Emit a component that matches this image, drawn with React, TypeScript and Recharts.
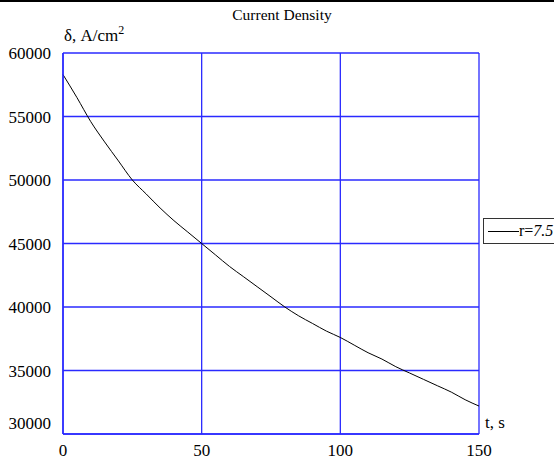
import React from 'react';
import { LineChart, Line, XAxis, YAxis, CartesianGrid } from 'recharts';

/* ── Data ────────────────────────────────────────────────── */
const timeS = [0, 5, 10, 15, 20, 25, 30, 35, 40, 45, 50, 55, 60, 65, 70, 75, 80, 85, 90, 95, 100, 105, 110, 115, 120, 125, 130, 135, 140, 145, 150];
const densityR75 = [
  58300, 56500, 54600, 53000, 51500, 50000, 48900, 47800, 46800, 45900, 45000, 44100, 43200, 42400, 41600, 40800,
  40000, 39300, 38700, 38100, 37600, 37000, 36400, 35900, 35300, 34800, 34300, 33800, 33300, 32700, 32200,
];
const xTicks = [0, 50, 100, 150];
const yTicks = [30000, 35000, 40000, 45000, 50000, 55000, 60000];
const seriesName = 'r=7.5';

const data = timeS.map((t, i) => ({ t, d: densityR75[i] }));

/* ── Style ───────────────────────────────────────────────── */
const FONT = "'Liberation Serif', 'Times New Roman', serif";
const BLUE = '#2a2aff';
const W = 554;
const H = 462;

const YTick = (props: any) => {
  const { x, y, payload } = props;
  // bottom label sits above the x labels, as in the source
  const dy = payload.value === 30000 ? -11 : 0;
  return (
    <text x={x - 4} y={y + dy} dy={6} textAnchor="end" fontFamily={FONT} fontSize={17} fill="#000">
      {payload.value}
    </text>
  );
};

const XTick = (props: any) => {
  const { x, y, payload } = props;
  return (
    <text x={x} y={y} dy={14} textAnchor="middle" fontFamily={FONT} fontSize={17} fill="#000">
      {payload.value}
    </text>
  );
};

export default function App() {
  return (
    <div style={{ position: 'absolute', left: 0, top: 0, width: W, height: H, background: '#fff', overflow: 'hidden' }}>
      <div style={{ position: 'absolute', left: 0, top: 0, width: W, height: 2, background: '#000' }} />
      <div
        style={{
          position: 'absolute',
          left: 228,
          top: 6,
          width: 108,
          textAlign: 'center',
          fontFamily: FONT,
          fontSize: 15.5,
          whiteSpace: 'nowrap',
        }}
      >
        Current Density
      </div>
      <div style={{ position: 'absolute', left: 64, top: 23, fontFamily: FONT, fontSize: 17, whiteSpace: 'nowrap' }}>
        δ, A/cm<sup style={{ fontSize: 12 }}>2</sup>
      </div>
      <div style={{ position: 'absolute', left: 485, top: 413, fontFamily: FONT, fontSize: 17, whiteSpace: 'nowrap' }}>
        t, s
      </div>

      {/* legend box, running off the right edge like the source */}
      <div
        style={{
          position: 'absolute',
          left: 483,
          top: 218,
          height: 26,
          width: 90,
          border: '1px solid #333',
          display: 'flex',
          alignItems: 'center',
          paddingLeft: 4,
          boxSizing: 'border-box',
          fontFamily: FONT,
          fontSize: 16,
          whiteSpace: 'nowrap',
        }}
      >
        <span style={{ width: 31, height: 1, background: '#000', display: 'inline-block' }} />
        <span>
          r=<i>7.5</i>
        </span>
      </div>

      <LineChart width={W} height={H} data={data} margin={{ top: 53, right: 75, bottom: 6, left: 8 }}>
        <CartesianGrid stroke={BLUE} strokeWidth={1.3} horizontalValues={yTicks} verticalValues={xTicks} />
        <XAxis
          dataKey="t"
          type="number"
          domain={[0, 150]}
          ticks={xTicks}
          tick={<XTick />}
          tickLine={false}
          axisLine={{ stroke: BLUE, strokeWidth: 1.5 }}
          height={22}
          interval={0}
        />
        <YAxis
          type="number"
          domain={[30000, 60000]}
          ticks={yTicks}
          tick={<YTick />}
          tickLine={false}
          axisLine={{ stroke: BLUE, strokeWidth: 1.5 }}
          width={55}
          interval={0}
        />
        <Line
          type="monotone"
          dataKey="d"
          name={seriesName}
          stroke="#000"
          strokeWidth={1}
          dot={false}
          isAnimationActive={false}
        />
      </LineChart>
    </div>
  );
}
